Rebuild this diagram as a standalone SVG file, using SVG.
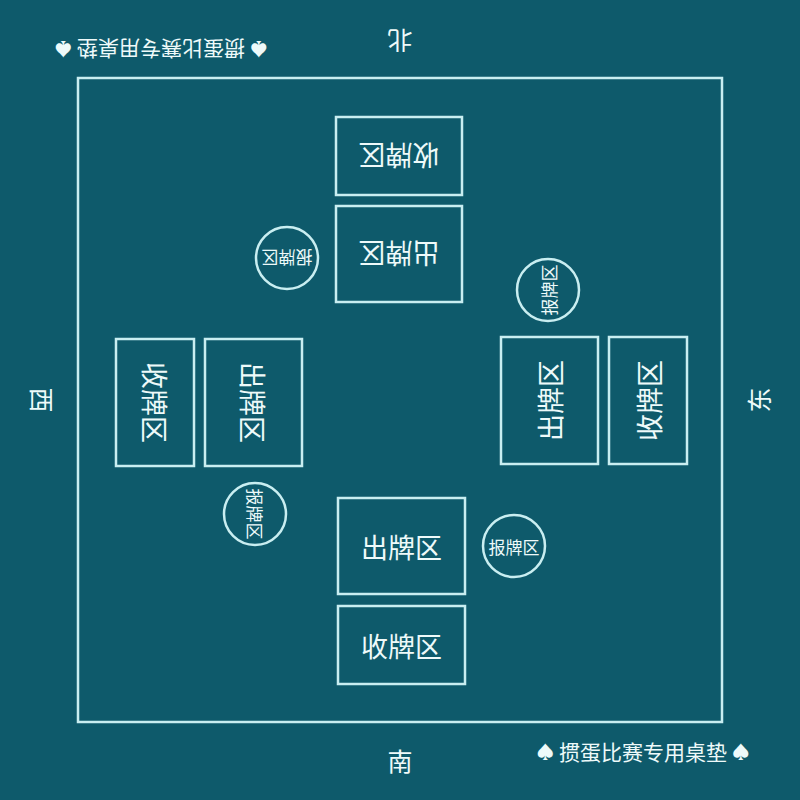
<svg xmlns="http://www.w3.org/2000/svg" width="800" height="800" viewBox="0 0 800 800">
<style>
.bg{fill:#0e5a6b}
.ln{fill:none;stroke:#c9eef1;stroke-width:2.5}
.t{fill:#eefafa;font-family:"Noto Sans CJK SC","Noto Sans CJK JP",sans-serif;text-anchor:middle;dominant-baseline:central}
.big{font-size:27px}
.sm{font-size:17px}
.dir{font-size:25px}
.lab{font-size:21px}
.sp{font-size:18px}
</style>
<rect class="bg" x="0" y="0" width="800" height="800"/>
<g id="border"><rect class="ln" x="78" y="78" width="644" height="644"/></g>
<g id="labels">
<text class="t dir" transform="translate(400,42) rotate(180)">北</text>
<text class="t dir" transform="translate(400,760)">南</text>
<text class="t dir" transform="translate(43,400) rotate(90)">西</text>
<text class="t dir" transform="translate(758,400) rotate(-90)">东</text>
<text class="t lab" transform="translate(161,50) rotate(180)"><tspan class="sp">♠</tspan> 掼蛋比赛专用桌垫 <tspan class="sp">♠</tspan></text>
<text class="t lab" transform="translate(643,751)"><tspan class="sp">♠</tspan> 掼蛋比赛专用桌垫 <tspan class="sp">♠</tspan></text>
</g>
<g id="north-collect"><rect class="ln" x="336" y="117" width="126" height="78"/><text class="t big" transform="translate(399,156) rotate(180)">收牌区</text></g>
<g id="north-play"><rect class="ln" x="336" y="206" width="126" height="96"/><text class="t big" transform="translate(399,254) rotate(180)">出牌区</text></g>
<g id="north-report"><circle class="ln" cx="287" cy="258" r="31"/><text class="t sm" transform="translate(287,258) rotate(180)">报牌区</text></g>
<g id="south-play"><rect class="ln" x="338" y="498" width="127" height="96"/><text class="t big" transform="translate(401.5,546)">出牌区</text></g>
<g id="south-collect"><rect class="ln" x="338" y="606" width="127" height="78"/><text class="t big" transform="translate(401.5,645)">收牌区</text></g>
<g id="south-report"><circle class="ln" cx="514" cy="546" r="31"/><text class="t sm" transform="translate(514,546)">报牌区</text></g>
<g id="west-collect"><rect class="ln" x="116" y="339" width="78" height="127"/><text class="t big" transform="translate(155,402.5) rotate(90)">收牌区</text></g>
<g id="west-play"><rect class="ln" x="205" y="339" width="97" height="127"/><text class="t big" transform="translate(253.5,402.5) rotate(90)">出牌区</text></g>
<g id="west-report"><circle class="ln" cx="255" cy="514" r="31"/><text class="t sm" transform="translate(255,514) rotate(90)">报牌区</text></g>
<g id="east-play"><rect class="ln" x="501" y="337" width="97" height="127"/><text class="t big" transform="translate(549.5,400.5) rotate(-90)">出牌区</text></g>
<g id="east-collect"><rect class="ln" x="609" y="337" width="78" height="127"/><text class="t big" transform="translate(648,400.5) rotate(-90)">收牌区</text></g>
<g id="east-report"><circle class="ln" cx="548" cy="290" r="31"/><text class="t sm" transform="translate(548,290) rotate(-90)">报牌区</text></g>
<g id="connectors"></g>
</svg>
